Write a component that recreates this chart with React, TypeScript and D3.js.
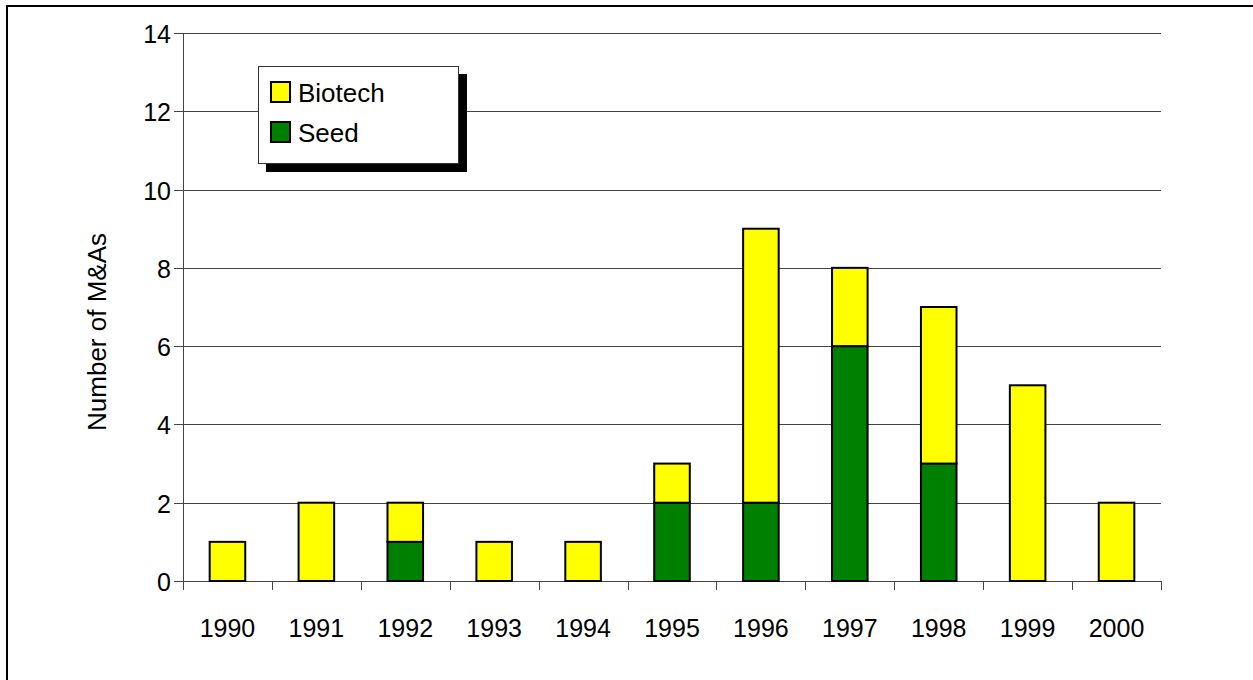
import React from 'react';
import { scaleBand, scaleLinear, stack } from 'd3';

const years = ['1990', '1991', '1992', '1993', '1994', '1995', '1996', '1997', '1998', '1999', '2000'];
const seed = [0, 0, 1, 0, 0, 2, 2, 6, 3, 0, 0];
const biotech = [1, 2, 1, 1, 1, 1, 7, 2, 4, 5, 2];
const yTicks = [0, 2, 4, 6, 8, 10, 12, 14];
const seriesNames = ['Seed', 'Biotech'];
const legendNames = ['Biotech', 'Seed'];
const colors: Record<string, string> = { Seed: '#008000', Biotech: '#ffff00' };

const App = () => {
    const width = 1253;
    const height = 680;
    const left = 183;
    const right = 1161;
    const top = 33;
    const bottom = 581;
    const font = '"Liberation Sans", Arial, sans-serif';

    const rows = years.map((year, i) => ({ year, Seed: seed[i], Biotech: biotech[i] }));
    const layers = stack<any>().keys(seriesNames)(rows);

    const xScale = scaleBand()
        .domain(years)
        .range([left, right])
        .paddingInner(0.6)
        .paddingOuter(0.3);

    const yScale = scaleLinear()
        .domain([0, 14])
        .range([bottom, top]);

    const step = xScale.step();
    const tickXs = years.map((_, i) => left + i * step).concat([right]);

    return (
        <svg width={width} height={height} style={{ position: 'absolute', left: 0, top: 0, background: '#fff' }} fontFamily={font}>
            {/* outer frame, only top and left are inside the picture */}
            <path d={`M7,${height} V6 H${width}`} fill="none" stroke="#000" strokeWidth={2} />

            {/* grid */}
            {yTicks.filter(t => t > 0).map(t =>
                <line key={`grid-${t}`} x1={left} x2={right} y1={Math.round(yScale(t)) + 0.5} y2={Math.round(yScale(t)) + 0.5} stroke="#444" strokeWidth={1} />
            )}

            {/* y axis */}
            <line x1={left + 0.5} x2={left + 0.5} y1={top} y2={bottom + 9} stroke="#444" />
            {yTicks.map(t =>
                <g key={`y-${t}`} transform={`translate(0, ${Math.round(yScale(t)) + 0.5})`}>
                    <line x1={left - 9} x2={left} stroke="#444" />
                    <text x={left - 12} dy="0.36em" textAnchor="end" fontSize={25}>{t}</text>
                </g>
            )}

            {/* x axis */}
            <line x1={left} x2={right} y1={bottom + 0.5} y2={bottom + 0.5} stroke="#444" />
            {tickXs.map((x, i) =>
                <line key={`xt-${i}`} x1={Math.round(x) + 0.5} x2={Math.round(x) + 0.5} y1={bottom} y2={bottom + 9} stroke="#444" />
            )}
            {years.map(year =>
                <text key={`xl-${year}`} x={(xScale(year) ?? 0) + xScale.bandwidth() / 2} y={637} textAnchor="middle" fontSize={25}>{year}</text>
            )}

            {/* bars */}
            {layers.map(layer =>
                <g key={`layer-${layer.key}`} fill={colors[layer.key]} stroke="#000" strokeWidth={2}>
                    {layer.filter(d => d[1] - d[0] > 0).map(d =>
                        <rect
                            key={`${layer.key}-${d.data.year}`}
                            x={xScale(d.data.year)}
                            y={yScale(d[1])}
                            width={xScale.bandwidth()}
                            height={yScale(d[0]) - yScale(d[1])}
                        />
                    )}
                </g>
            )}

            {/* y label */}
            <text transform="translate(106, 332) rotate(-90)" textAnchor="middle" fontSize={26}>Number of M&amp;As</text>

            {/* legend */}
            <rect x={266} y={74} width={201} height={98} fill="#000" />
            <rect x={258.5} y={66.5} width={200} height={97} fill="#fff" stroke="#333" strokeWidth={1} />
            {legendNames.map((name, i) =>
                <g key={`legend-${name}`} transform={`translate(0, ${i * 40})`}>
                    <rect x={271} y={82} width={19} height={20} fill={colors[name]} stroke="#000" strokeWidth={2} />
                    <text x={298} y={102} fontSize={26}>{name}</text>
                </g>
            )}
        </svg>
    );
};

export default App;
